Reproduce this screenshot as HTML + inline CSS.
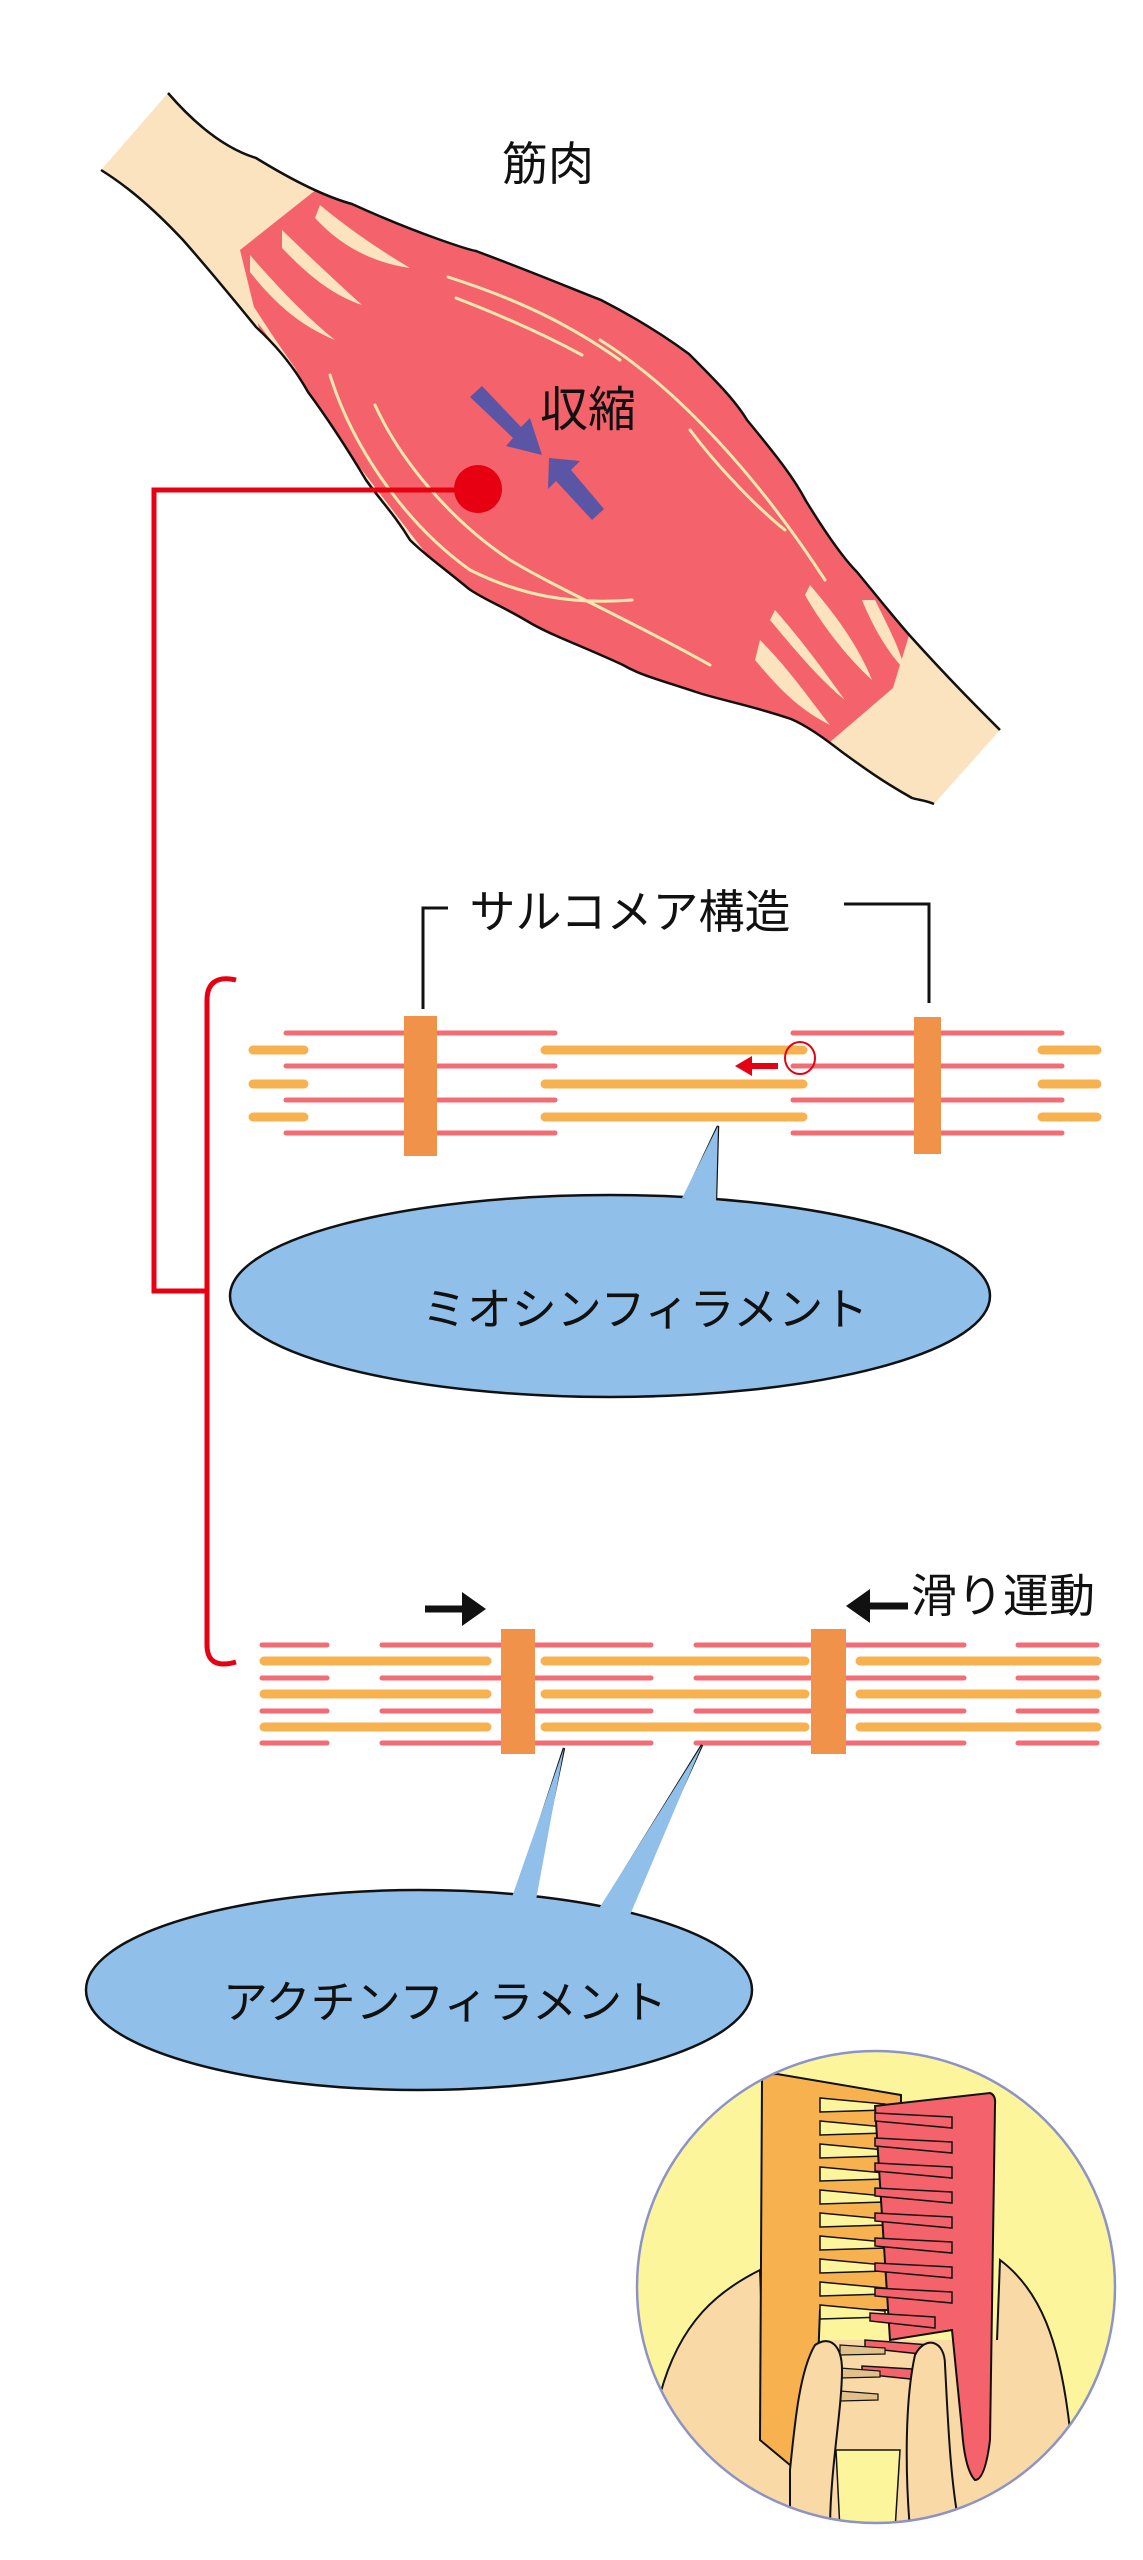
<!DOCTYPE html>
<html><head><meta charset="utf-8"><style>
html,body{margin:0;padding:0;background:#fff;}
svg{display:block;}
text{font-family:"Liberation Sans","Noto Sans CJK JP",sans-serif;fill:#111;}
</style></head><body>
<svg width="1143" height="2560" viewBox="0 0 1143 2560" xmlns="http://www.w3.org/2000/svg">
<defs>
<clipPath id="mus"><path d="M168,93 C200,130 230,150 256,158 C300,185 330,198 352,204 C420,235 470,250 476,251 C540,275 580,292 601,300 C640,320 670,340 689,354 C715,380 735,400 747,420 C780,460 795,480 806,501 C830,540 845,560 857,572 C880,600 900,625 912,638 C950,680 975,705 1000,730 L934,804 C925,800 918,800 912,798 C880,780 860,765 842,752 C820,735 805,725 791,719 C750,705 720,700 696,692 C660,680 640,675 623,665 C580,645 550,635 527,621 C500,605 485,600 469,589 C440,565 425,555 410,540 C395,515 380,500 366,480 C345,445 325,415 308,392 C290,360 270,340 256,327 C230,295 205,265 183,240 C150,205 125,185 101,170 Z"/></clipPath>
<clipPath id="circ"><ellipse cx="876" cy="2287" rx="239" ry="236"/></clipPath>
</defs>

<g clip-path="url(#mus)">
<rect x="90" y="80" width="920" height="740" fill="#fbe3bf"/>
<path d="M322,185 L700,290 L910,632 L893,688 L830,742 L500,650 L262,340 L240,250 Z" fill="#f4636b"/>
<g fill="#fbe3bf">
<path d="M320,205 C350,230 380,250 410,268 C370,262 340,245 315,218 Z"/>
<path d="M282,230 C315,262 340,285 362,305 C332,295 308,275 282,248 Z"/>
<path d="M250,255 C280,290 310,320 335,340 C298,325 272,300 250,272 Z"/>
<path d="M240,285 C262,320 282,350 298,372 C278,352 258,322 240,300 Z"/>
<path d="M875,600 C890,630 900,650 905,670 C885,650 870,620 862,600 Z"/>
<path d="M810,585 C840,620 860,650 872,680 C850,660 825,630 805,595 Z"/>
<path d="M775,610 C810,650 830,680 845,700 C820,680 795,650 770,620 Z"/>
<path d="M760,640 C790,670 810,700 830,725 C800,710 780,690 755,660 Z"/>
</g>
</g>
<path d="M168,93 C200,130 230,150 256,158 C300,185 330,198 352,204 C420,235 470,250 476,251 C540,275 580,292 601,300 C640,320 670,340 689,354 C715,380 735,400 747,420 C780,460 795,480 806,501 C830,540 845,560 857,572 C880,600 900,625 912,638 C950,680 975,705 1000,730" fill="none" stroke="#111" stroke-width="2.5"/>
<path d="M934,804 C925,800 918,800 912,798 C880,780 860,765 842,752 C820,735 805,725 791,719 C750,705 720,700 696,692 C660,680 640,675 623,665 C580,645 550,635 527,621 C500,605 485,600 469,589 C440,565 425,555 410,540 C395,515 380,500 366,480 C345,445 325,415 308,392 C290,360 270,340 256,327 C230,295 205,265 183,240 C150,205 125,185 101,170" fill="none" stroke="#111" stroke-width="2.5"/>
<g fill="none" stroke="#f8e8b0" stroke-width="3" stroke-linecap="round">
<path d="M448,277 C520,300 570,325 620,360"/>
<path d="M456,298 C500,315 545,335 582,355"/>
<path d="M330,375 C350,440 400,520 470,570 C520,595 570,605 632,600"/>
<path d="M375,405 C400,460 450,520 510,560 C560,590 630,620 710,665"/>
<path d="M600,340 C680,390 760,480 825,580"/>
<path d="M690,430 C720,470 760,510 785,530"/>
</g>
<text x="548" y="180" font-size="46" text-anchor="middle">筋肉</text>
<text x="588" y="426" font-size="48" text-anchor="middle">収縮</text>
<g fill="#5b55a5">
<path d="M470,397 L482,386 L521,427 L530,418 L542,455 L506,446 L513,438 Z"/>
<path d="M604,509 L592,520 L556,481 L548,489 L549,458 L580,461 L571,470 Z"/>
</g>
<g stroke="#e60012" stroke-width="5" fill="none">
<path d="M478,490 L154,490 L154,1291 L207,1291"/>
<path d="M236,980 C215,975 207,985 207,1000 L207,1645 C207,1660 215,1668 236,1662"/>
</g>
<circle cx="478" cy="489" r="24" fill="#e60012"/>

<text x="630" y="928" font-size="46" text-anchor="middle">サルコメア構造</text>
<path d="M448,908 L423,908 L423,1009" fill="none" stroke="#111" stroke-width="3"/>
<path d="M844,904 L929,904 L929,1003" fill="none" stroke="#111" stroke-width="3"/>

<g stroke="#f36b73" stroke-width="5" stroke-linecap="round">
<line x1="286" y1="1033" x2="555" y2="1033"/><line x1="286" y1="1066" x2="555" y2="1066"/>
<line x1="286" y1="1100" x2="555" y2="1100"/><line x1="286" y1="1133" x2="555" y2="1133"/>
<line x1="793" y1="1033" x2="1062" y2="1033"/><line x1="793" y1="1066" x2="1062" y2="1066"/>
<line x1="793" y1="1100" x2="1062" y2="1100"/><line x1="793" y1="1133" x2="1062" y2="1133"/>
</g>
<g stroke="#f7b24f" stroke-width="9" stroke-linecap="round">
<line x1="253" y1="1050" x2="304" y2="1050"/><line x1="253" y1="1084" x2="304" y2="1084"/><line x1="253" y1="1117" x2="304" y2="1117"/>
<line x1="545" y1="1050" x2="803" y2="1050"/><line x1="545" y1="1084" x2="803" y2="1084"/><line x1="545" y1="1117" x2="803" y2="1117"/>
<line x1="1042" y1="1050" x2="1097" y2="1050"/><line x1="1042" y1="1084" x2="1097" y2="1084"/><line x1="1042" y1="1117" x2="1097" y2="1117"/>
</g>
<rect x="404" y="1016" width="33" height="140" fill="#f0924a"/>
<rect x="914" y="1017" width="27" height="137" fill="#f0924a"/>
<path d="M778,1066 L748,1066" stroke="#e60012" stroke-width="6"/>
<path d="M735,1066 L752,1056 L752,1076 Z" fill="#e60012"/>
<ellipse cx="800" cy="1058" rx="15" ry="16" fill="none" stroke="#e60012" stroke-width="2"/>

<path d="M685,1196 L718,1126 L716,1199" fill="#90c0ea" stroke="#111" stroke-width="2.5"/>
<ellipse cx="610" cy="1296" rx="380" ry="101" fill="#90c0ea" stroke="#111" stroke-width="2.5"/>
<path d="M682,1198 L718,1126 L716,1202" fill="#90c0ea" stroke="none"/>
<text x="645" y="1325" font-size="45" text-anchor="middle">ミオシンフィラメント</text>

<text x="1003" y="1612" font-size="46" text-anchor="middle">滑り運動</text>
<path d="M425,1609 L466,1609" stroke="#111" stroke-width="7"/>
<path d="M486,1609 L462,1592 L462,1626 Z" fill="#111"/>
<path d="M908,1606 L866,1606" stroke="#111" stroke-width="7"/>
<path d="M846,1606 L870,1589 L870,1623 Z" fill="#111"/>
<g stroke="#f36b73" stroke-width="5" stroke-linecap="round">
<g id="rr"><line x1="262" y1="1645" x2="327" y2="1645"/><line x1="382" y1="1645" x2="651" y2="1645"/><line x1="696" y1="1645" x2="964" y2="1645"/><line x1="1018" y1="1645" x2="1097" y2="1645"/></g>
<use href="#rr" y="33"/><use href="#rr" y="66"/><use href="#rr" y="98"/>
</g>
<g stroke="#f7b24f" stroke-width="9" stroke-linecap="round">
<g id="oo"><line x1="264" y1="1661" x2="487" y2="1661"/><line x1="545" y1="1661" x2="805" y2="1661"/><line x1="860" y1="1661" x2="1097" y2="1661"/></g>
<use href="#oo" y="33"/><use href="#oo" y="66"/>
</g>
<rect x="501" y="1629" width="34" height="125" fill="#f0924a"/>
<rect x="811" y="1629" width="35" height="125" fill="#f0924a"/>

<ellipse cx="419" cy="1990" rx="333" ry="100" fill="#90c0ea" stroke="#111" stroke-width="2.5"/>
<path d="M516,1894 L564,1748 L533,1896" fill="#90c0ea" stroke="#111" stroke-width="2.5"/>
<path d="M602,1907 L702,1745 L626,1912" fill="#90c0ea" stroke="#111" stroke-width="2.5"/>
<path d="M512,1897 L564,1748 L536,1900 Z M598,1910 L702,1745 L630,1915 Z" fill="#90c0ea"/>
<text x="445" y="2018" font-size="45" text-anchor="middle">アクチンフィラメント</text>

<ellipse cx="876" cy="2287" rx="239" ry="236" fill="#fdf59b"/>
<g clip-path="url(#circ)">
<path d="M660,2395 C680,2320 720,2290 760,2270 L770,2530 L640,2530 Z" fill="#f9d9a5" stroke="#111" stroke-width="2"/>
<path d="M1000,2260 C1040,2290 1060,2340 1070,2430 L1100,2530 L990,2530 Z" fill="#f9d9a5" stroke="#111" stroke-width="2"/>
<path d="M760,2340 L1000,2340 L1010,2530 L750,2530 Z" fill="#f9d9a5"/>
<path d="M836,2450 L900,2450 L895,2530 L840,2530 Z" fill="#fdf59b" stroke="#111" stroke-width="1.5"/>
<path d="M762,2080 Q766,2074 777,2074 L901,2095 L900,2310 L820,2310 L815,2440 Q805,2470 790,2465 L760,2440 Z" fill="#f7b24f" stroke="#111" stroke-width="2"/>
<g fill="#fdf59b" stroke="#111" stroke-width="1.5">
<path d="M820,2098 L885,2104 L885,2110 L820,2112 Z"/>
<path d="M820,2121 L885,2127 L885,2133 L820,2135 Z"/>
<path d="M820,2144 L885,2150 L885,2156 L820,2158 Z"/>
<path d="M820,2167 L885,2173 L885,2179 L820,2181 Z"/>
<path d="M820,2190 L885,2196 L885,2202 L820,2204 Z"/>
<path d="M820,2213 L885,2219 L885,2225 L820,2227 Z"/>
<path d="M820,2236 L885,2242 L885,2248 L820,2250 Z"/>
<path d="M820,2259 L885,2265 L885,2271 L820,2273 Z"/>
<path d="M820,2282 L885,2288 L885,2294 L820,2296 Z"/>
<path d="M820,2305 L885,2311 L885,2317 L820,2319 Z"/>
</g>
<path d="M875,2106 L990,2093 Q996,2095 995,2105 L990,2440 Q985,2480 975,2480 Q965,2470 962,2430 L952,2330 L890,2340 Z" fill="#f4636b" stroke="#111" stroke-width="2"/>
<g fill="#f4636b" stroke="#111" stroke-width="1.5">
<path d="M952,2117 L875,2113 L875,2121 L952,2128 Z"/>
<path d="M952,2142 L875,2138 L875,2146 L952,2153 Z"/>
<path d="M952,2167 L875,2163 L875,2171 L952,2178 Z"/>
<path d="M952,2192 L875,2188 L875,2196 L952,2203 Z"/>
<path d="M952,2217 L875,2213 L875,2221 L952,2228 Z"/>
<path d="M952,2242 L875,2238 L875,2246 L952,2253 Z"/>
<path d="M952,2267 L875,2263 L875,2271 L952,2278 Z"/>
<path d="M952,2292 L875,2288 L875,2296 L952,2303 Z"/>
<path d="M935,2317 L870,2313 L870,2321 L935,2328 Z"/>
<path d="M930,2345 L865,2340 L865,2348 L930,2355 Z"/>
<path d="M930,2370 L862,2366 L862,2374 L930,2381 Z"/>
</g>
<g fill="#e2c08a" stroke="#111" stroke-width="1.2">
<path d="M840,2345 L885,2348 L885,2354 L840,2355 Z"/>
<path d="M840,2368 L880,2371 L880,2377 L840,2378 Z"/>
<path d="M840,2391 L878,2394 L878,2400 L840,2401 Z"/>
</g>
<path d="M790,2470 C795,2420 800,2370 815,2345 C830,2335 842,2345 842,2370 C842,2410 830,2470 830,2530 L790,2530 Z" fill="#f9d9a5" stroke="#111" stroke-width="2"/>
<path d="M910,2530 C905,2470 905,2400 915,2355 C925,2335 945,2340 945,2365 C948,2420 950,2480 960,2530 Z" fill="#f9d9a5" stroke="#111" stroke-width="2"/>
</g>
<ellipse cx="876" cy="2287" rx="239" ry="236" fill="none" stroke="#8c93c6" stroke-width="2.5"/>
</svg>
</body></html>
